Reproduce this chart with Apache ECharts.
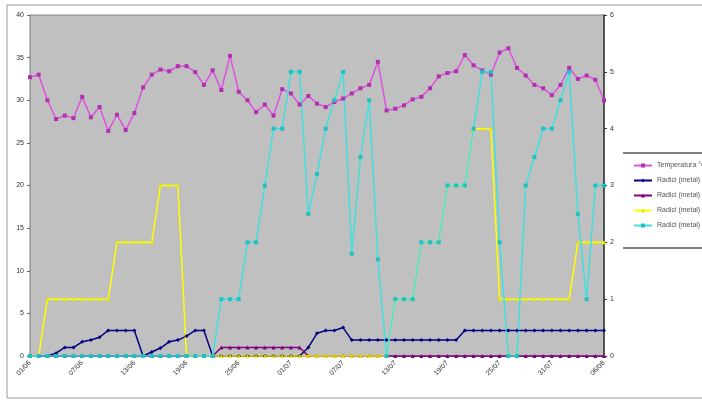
<!DOCTYPE html>
<html><head><meta charset="utf-8">
<script src="https://cdn.jsdelivr.net/npm/echarts@6/dist/echarts.min.js"></script>
<style>html,body{margin:0;padding:0;background:#fff}#c{width:702px;height:401px}</style>
</head><body><div id="c"></div>
<script>
const categories = ["01/06","02/06","03/06","04/06","05/06","06/06","07/06","08/06","09/06","10/06",
"11/06","12/06","13/06","14/06","15/06","16/06","17/06","18/06","19/06","20/06",
"21/06","22/06","23/06","24/06","25/06","26/06","27/06","28/06","29/06","30/06",
"01/07","02/07","03/07","04/07","05/07","06/07","07/07","08/07","09/07","10/07",
"11/07","12/07","13/07","14/07","15/07","16/07","17/07","18/07","19/07","20/07",
"21/07","22/07","23/07","24/07","25/07","26/07","27/07","28/07","29/07","30/07",
"31/07","01/08","02/08","03/08","04/08","05/08","06/08"];
const seriesNames = ["Temperatura °C","Radici (metal) 1","Radici (metal) 2","Radici (metal) 3","Radici (metal) 4"];
const temperatura = [32.7,33.0,30.0,27.8,28.2,27.9,30.4,28.0,29.2,26.4,28.3,26.5,28.5,31.5,33.0,33.6,33.4,34.0,34.0,33.3,
31.8,33.5,31.2,35.2,31.0,30.0,28.6,29.5,28.2,31.3,30.8,29.5,30.5,29.6,29.2,29.8,30.2,30.8,31.4,31.8,
34.5,28.8,29.0,29.4,30.1,30.4,31.4,32.8,33.2,33.4,35.3,34.1,33.5,33.0,35.6,36.1,33.8,32.9,31.8,31.4,
30.6,31.8,33.8,32.5,32.9,32.4,30.0];
const radici1 = [0,0,0,0.05,0.15,0.15,0.25,0.28,0.33,0.45,0.45,0.45,0.45,0,0.07,0.14,0.25,0.28,0.35,0.45,
0.45,0,0,0,0,0,0,0,0,0,0,0,0.15,0.4,0.45,0.45,0.5,0.28,0.28,0.28,
0.28,0.28,0.28,0.28,0.28,0.28,0.28,0.28,0.28,0.28,0.45,0.45,0.45,0.45,0.45,0.45,0.45,0.45,0.45,0.45,
0.45,0.45,0.45,0.45,0.45,0.45,0.45];
const radici2 = [0,0,0,0,0,0,0,0,0,0,0,0,0,0,0,0,0,0,0,0,
0,0,0.15,0.15,0.15,0.15,0.15,0.15,0.15,0.15,0.15,0.15,0,0,0,0,0,0,0,0,
0,0,0,0,0,0,0,0,0,0,0,0,0,0,0,0,0,0,0,0,
0,0,0,0,0,0,0];
const radici3 = [0,0,1,1,1,1,1,1,1,1,2,2,2,2,2,3,3,3,0,0,
0,0,0,0,0,0,0,0,0,0,0,0,0,0,0,0,0,0,0,0,
0,0,1,1,1,2,2,2,3,3,3,4,4,4,1,1,1,1,1,1,
1,1,1,2,2,2,2];
const radici4 = [0,0,0,0,0,0,0,0,0,0,0,0,0,0,0,0,0,0,0,0,
0,0,1,1,1,2,2,3,4,4,5,5,2.5,3.2,4,4.5,5,1.8,3.5,4.5,
1.7,0,1,1,1,2,2,2,3,3,3,4,5,5,2,0,0,3,3.5,4,
4,4.5,5,2.5,1,3,3];
const leftTicks = {min:0,max:40,interval:5};
const rightTicks = {min:0,max:6,interval:1};

const chart = echarts.init(document.getElementById('c'));
const txt = {fontSize:7,color:'#333',fontFamily:'Liberation Sans, Arial'};
function mk(name,data,color,symbol,axis,msize,mcolor){
  return {name:name,type:'line',data:data,yAxisIndex:axis,symbol:symbol,symbolSize:msize,
    lineStyle:{color:color,width:1.5},itemStyle:{color:mcolor||color},animation:false};
}
chart.setOption({
  animation:false,
  grid:{left:30,right:98,top:15,bottom:45,show:true,backgroundColor:'#c0c0c0',borderColor:'#808080',borderWidth:1},
  legend:{orient:'vertical',left:628,top:157,itemGap:8,itemWidth:18,itemHeight:5,
    textStyle:Object.assign({},txt,{color:'#555'}),data:seriesNames},
  xAxis:{type:'category',data:categories,boundaryGap:false,
    axisLine:{lineStyle:{color:'#666'}},axisTick:{show:false},
    axisLabel:Object.assign({},txt,{rotate:45,interval:5,margin:6})},
  yAxis:[
    {type:'value',min:leftTicks.min,max:leftTicks.max,interval:leftTicks.interval,splitLine:{show:false},
     axisLine:{show:true,lineStyle:{color:'#999'}},axisTick:{show:true,length:3,lineStyle:{color:'#666'}},
     axisLabel:Object.assign({},txt,{margin:6})},
    {type:'value',min:rightTicks.min,max:rightTicks.max,interval:rightTicks.interval,splitLine:{show:false},
     position:'right',axisLine:{show:true,lineStyle:{color:'#333',width:1.5}},axisTick:{show:true,length:3,lineStyle:{color:'#333'}},
     axisLabel:Object.assign({},txt,{margin:6})}
  ],
  series:[
    mk(seriesNames[0],temperatura,'#e050e0','rect',0,4,'#b030b0'),
    mk(seriesNames[1],radici1,'#000080','diamond',1,4),
    mk(seriesNames[2],radici2,'#800080','triangle',1,4),
    mk(seriesNames[3],radici3,'#ffff00','triangle',1,4,'#e8e800'),
    mk(seriesNames[4],radici4,'#40e0e0','rect',1,4,'#20c0c0')
  ],
  graphic:[
    {type:'rect',shape:{x:7,y:5,width:700,height:393},style:{fill:'none',stroke:'#999',lineWidth:1},silent:true},
    {type:'line',shape:{x1:623,y1:153,x2:702,y2:153},style:{stroke:'#000',lineWidth:1}},
    {type:'line',shape:{x1:623,y1:248,x2:702,y2:248},style:{stroke:'#000',lineWidth:1}}
  ]
});
</script></body></html>
